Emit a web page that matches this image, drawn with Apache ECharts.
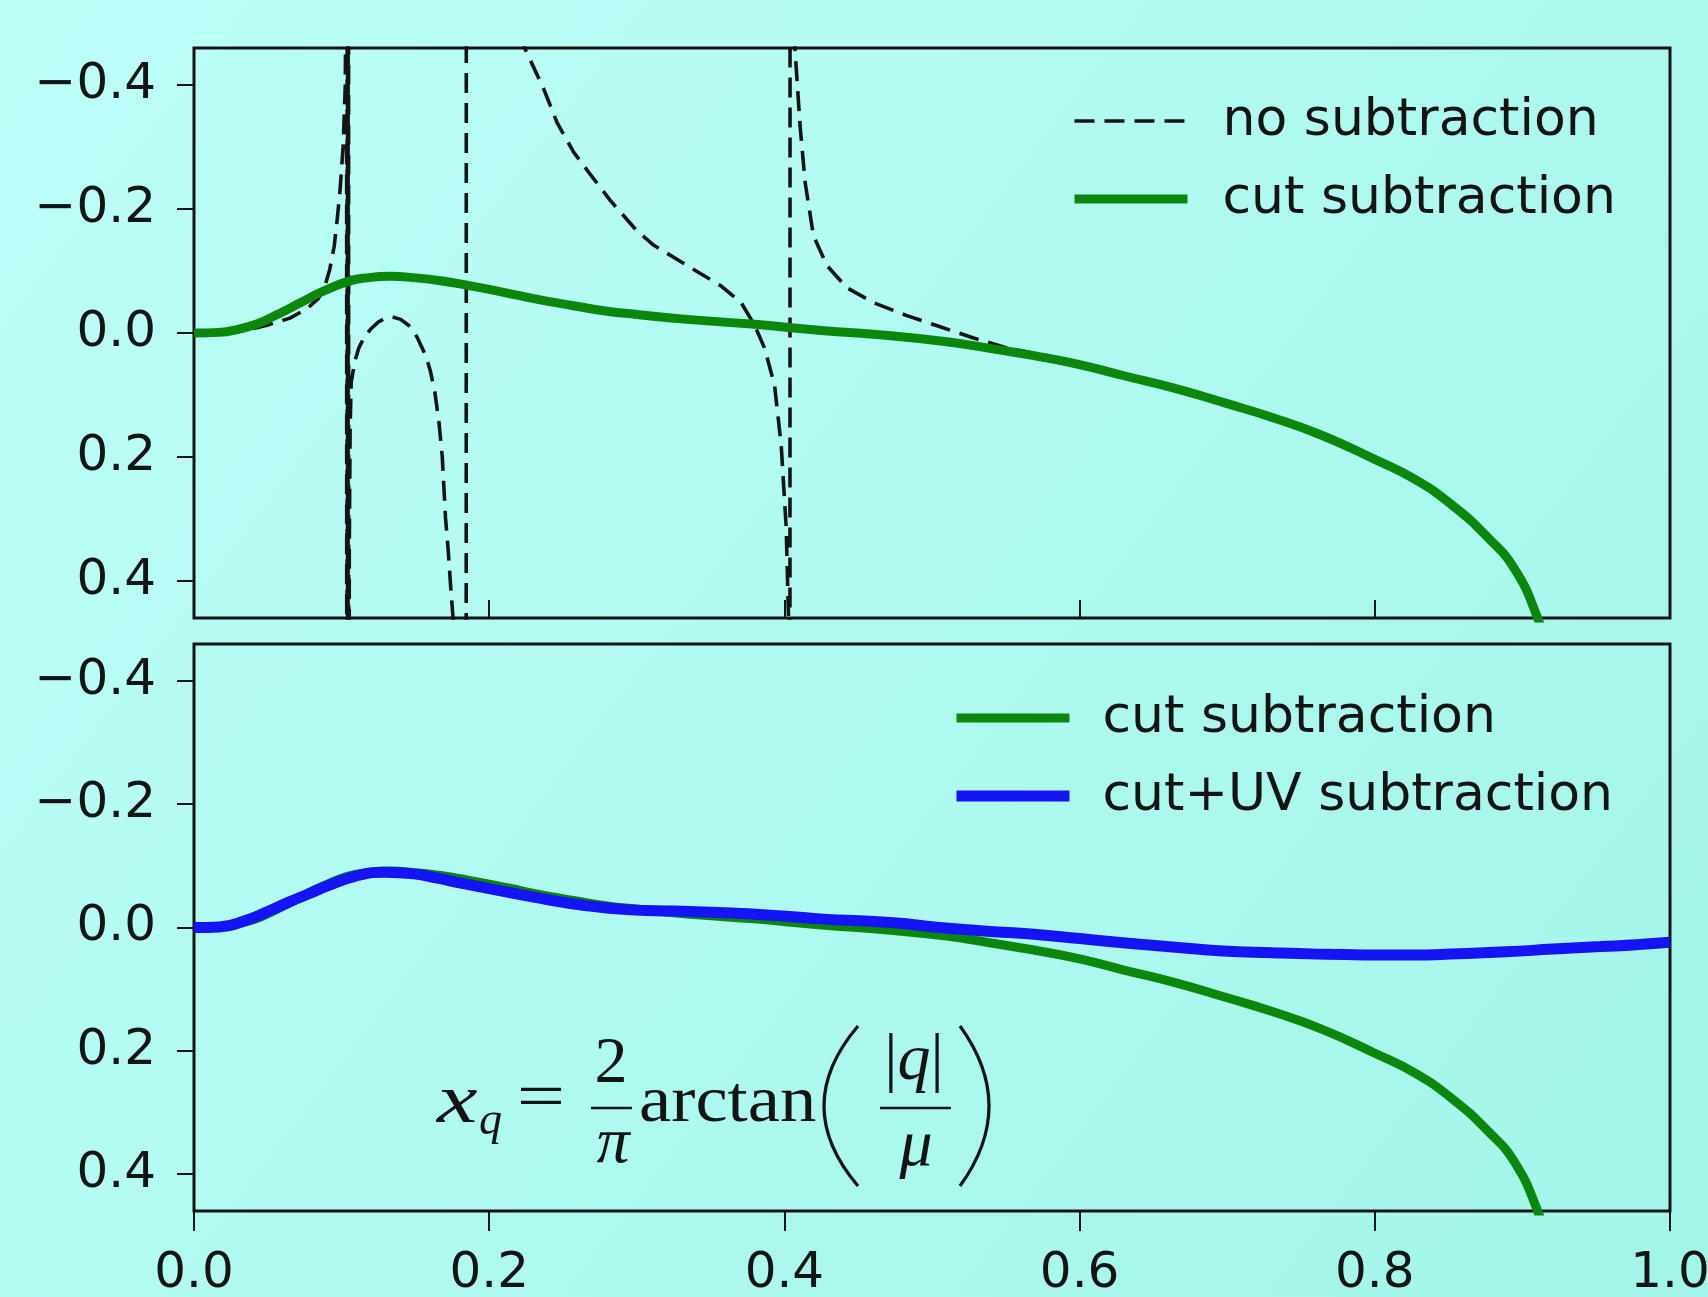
<!DOCTYPE html>
<html>
<head>
<meta charset="utf-8">
<script src="https://cdn.jsdelivr.net/npm/echarts@6/dist/echarts.min.js"></script>
<style>
  html, body { margin: 0; padding: 0; }
  #chart { width: 1708px; height: 1297px; }
</style>
</head>
<body>
<div id="chart"></div>
<script>
// x_q on the horizontal axis, values on an inverted vertical axis
const xTicks = [0, 0.2, 0.4, 0.6, 0.8, 1.0];
const yTicks = [-0.4, -0.2, 0, 0.2, 0.4];

// dashed curve, poles near 0.103, 0.184 and 0.404 (values past the frame are clipped)
const noSubtraction = [
  [0.000, 0.000], [0.020, 0.001], [0.035, -0.004], [0.050, -0.013], [0.065, -0.024],
  [0.077, -0.040], [0.084, -0.055], [0.088, -0.070], [0.092, -0.103], [0.095, -0.140],
  [0.097, -0.183], [0.099, -0.232], [0.101, -0.300], [0.1025, -0.40], [0.1030, -0.60],
  [0.1033, -3.0], [0.1036, 3.0], [0.1039, -3.0], [0.1042, 3.0], [0.1046, -3.0], [0.1049, 3.0],
  [0.1052, 0.35], [0.1058, 0.15], [0.1065, 0.08], [0.109, 0.045], [0.1117, 0.024], [0.1155, 0.006],
  [0.1196, -0.006], [0.125, -0.018], [0.1298, -0.024], [0.1343, -0.026], [0.140, -0.022],
  [0.1456, -0.012], [0.151, 0.006], [0.1569, 0.036], [0.160, 0.060], [0.1632, 0.096],
  [0.166, 0.145], [0.1682, 0.200], [0.1704, 0.298], [0.1722, 0.350], [0.1738, 0.406],
  [0.1754, 0.457], [0.178, 0.62], [0.182, 1.2], [0.1843, 3.0], [0.1846, -3.0],
  [0.200, -0.80], [0.214, -0.56], [0.2244, -0.458], [0.2369, -0.394], [0.2459, -0.340],
  [0.2572, -0.292], [0.2685, -0.256], [0.282, -0.214], [0.300, -0.165], [0.3113, -0.142],
  [0.334, -0.109], [0.357, -0.076], [0.3707, -0.049], [0.3797, -0.013], [0.3865, 0.024],
  [0.3933, 0.084], [0.3978, 0.180], [0.4012, 0.313], [0.4028, 0.46], [0.4036, 3.0],
  [0.4040, -3.0], [0.406, -0.52], [0.4073, -0.453],
  [0.4107, -0.332], [0.4141, -0.242], [0.4197, -0.157], [0.4288, -0.109], [0.4423, -0.073],
  [0.4604, -0.049], [0.483, -0.028], [0.5055, -0.010], [0.5281, 0.008], [0.5507, 0.024],
  [0.5665, 0.032], [0.600, 0.051], [0.630, 0.069], [0.664, 0.089], [0.700, 0.114],
  [0.730, 0.136], [0.764, 0.165], [0.800, 0.204], [0.827, 0.236], [0.852, 0.277],
  [0.877, 0.331], [0.895, 0.382], [0.910, 0.458], [0.920, 0.55]
];

const cutSubtraction = [
  [0.000, 0.000], [0.017, -0.001], [0.030, -0.006], [0.043, -0.015], [0.054, -0.027],
  [0.065, -0.040], [0.077, -0.055], [0.088, -0.068], [0.104, -0.083], [0.117, -0.089],
  [0.133, -0.0915], [0.150, -0.089], [0.168, -0.084], [0.185, -0.077], [0.205, -0.068],
  [0.223, -0.059], [0.240, -0.051], [0.257, -0.044], [0.280, -0.035], [0.300, -0.030],
  [0.334, -0.022], [0.380, -0.014], [0.425, -0.004], [0.470, 0.004], [0.510, 0.014],
  [0.537, 0.024], [0.570, 0.037], [0.600, 0.051], [0.630, 0.069], [0.664, 0.089],
  [0.700, 0.114], [0.730, 0.136], [0.764, 0.165], [0.800, 0.204], [0.827, 0.236],
  [0.852, 0.277], [0.877, 0.331], [0.895, 0.382], [0.910, 0.458], [0.918, 0.52]
];

const cutUvSubtraction = [
  [0.000, 0.000], [0.017, -0.001], [0.037, -0.013], [0.050, -0.026], [0.063, -0.040],
  [0.077, -0.054], [0.090, -0.067], [0.109, -0.083], [0.129, -0.0895], [0.149, -0.087],
  [0.165, -0.080], [0.181, -0.072], [0.200, -0.063], [0.221, -0.0535], [0.240, -0.045],
  [0.260, -0.0374], [0.293, -0.029], [0.326, -0.0266], [0.375, -0.0224], [0.424, -0.014],
  [0.474, -0.0076], [0.505, 0.000], [0.537, 0.006], [0.569, 0.011], [0.600, 0.018],
  [0.633, 0.0255], [0.665, 0.032], [0.697, 0.038], [0.730, 0.041], [0.761, 0.0432],
  [0.793, 0.0445], [0.825, 0.0448], [0.857, 0.0425], [0.889, 0.0395], [0.921, 0.035],
  [0.953, 0.031], [0.977, 0.028], [1.000, 0.024]
];

const ink = '#141414';
const green = '#0b880b';
const blue = '#1414f5';
const dashes = [20, 10];

const chart = echarts.init(document.getElementById('chart'));

function fmtY(v) {
  if (Math.abs(v) < 1e-9) return '0.0';
  return v < 0 ? '\u2212' + (-v).toFixed(1) : v.toFixed(1);
}

function yAxisFor(gridIndex) {
  return {
    type: 'value',
    gridIndex: gridIndex,
    inverse: true,
    min: -0.46,
    max: 0.46,
    axisLine: { show: false, onZero: false },
    splitLine: { show: false },
    axisTick: {
      show: true,
      customValues: yTicks,
      length: 17,
      lineStyle: { color: ink, width: 2 }
    },
    axisLabel: {
      customValues: yTicks,
      margin: 38,
      color: ink,
      fontSize: 50,
      fontFamily: 'DejaVu Sans',
      formatter: fmtY
    }
  };
}

const mathFont = 'Liberation Serif';

const legendCommon = {
  orient: 'vertical', padding: 0,
  itemWidth: 113, itemHeight: 14, itemGap: 26, selectedMode: false,
  itemStyle: { opacity: 0 }
};

const option = {
  animation: false,
  backgroundColor: {
    type: 'linear', x: 0, y: 0, x2: 1, y2: 1,
    colorStops: [
      { offset: 0, color: '#bdfef9' },
      { offset: 1, color: '#a2f5e9' }
    ]
  },
  grid: [
    { left: 194, right: 38, top: 48, height: 570, show: true, borderColor: ink, borderWidth: 3,
      backgroundColor: 'transparent', containLabel: false, outerBoundsMode: 'none' },
    { left: 194, right: 38, top: 644, height: 567, show: true, borderColor: ink, borderWidth: 3,
      backgroundColor: 'transparent', containLabel: false, outerBoundsMode: 'none' }
  ],
  xAxis: [
    {
      type: 'value', gridIndex: 0, min: 0, max: 1, interval: 0.2,
      axisLine: { show: false, onZero: false },
      splitLine: { show: false },
      axisTick: { show: true, inside: true, length: 18, lineStyle: { color: ink, width: 2 } },
      axisLabel: { show: false }
    },
    {
      type: 'value', gridIndex: 1, min: 0, max: 1, interval: 0.2,
      axisLine: { show: false, onZero: false },
      splitLine: { show: false },
      axisTick: { show: true, length: 20, lineStyle: { color: ink, width: 2 } },
      axisLabel: {
        margin: 38, color: ink, fontSize: 50, fontFamily: 'DejaVu Sans',
        showMinLabel: true, showMaxLabel: true, hideOverlap: false,
        formatter: v => v.toFixed(1)
      }
    }
  ],
  yAxis: [yAxisFor(0), yAxisFor(1)],
  legend: [
    Object.assign({}, legendCommon, {
      left: 1070, top: 95,
      textStyle: { fontSize: 52, lineHeight: 52, fontFamily: 'DejaVu Sans', color: ink, padding: [0, 0, 0, 30] },
      data: [
        { name: 'no subtraction', lineStyle: { color: ink, width: 3.6, type: dashes } },
        { name: 'cut subtraction', lineStyle: { color: green, width: 9 } }
      ]
    }),
    Object.assign({}, legendCommon, {
      left: 951, top: 692,
      textStyle: { fontSize: 52, lineHeight: 52, fontFamily: 'DejaVu Sans', color: ink, padding: [0, 0, 0, 28] },
      data: [
        { name: 'cut subtraction', lineStyle: { color: green, width: 9 } },
        { name: 'cut+UV subtraction', lineStyle: { color: blue, width: 11 } }
      ]
    })
  ],
  series: [
    {
      name: 'no subtraction', type: 'line', xAxisIndex: 0, yAxisIndex: 0,
      data: noSubtraction, showSymbol: false, symbol: 'none', smooth: false,
      clip: true, z: 2,
      lineStyle: { color: ink, width: 3.6, type: dashes }
    },
    {
      name: 'cut subtraction', type: 'line', xAxisIndex: 0, yAxisIndex: 0,
      data: cutSubtraction, showSymbol: false, symbol: 'none', smooth: 0.5,
      clip: true, z: 3,
      lineStyle: { color: green, width: 9 }
    },
    {
      name: 'cut subtraction', type: 'line', xAxisIndex: 1, yAxisIndex: 1,
      data: cutSubtraction, showSymbol: false, symbol: 'none', smooth: 0.5,
      clip: true, z: 2,
      lineStyle: { color: green, width: 9 }
    },
    {
      name: 'cut+UV subtraction', type: 'line', xAxisIndex: 1, yAxisIndex: 1,
      data: cutUvSubtraction, showSymbol: false, symbol: 'none', smooth: 0.5,
      clip: true, z: 3,
      lineStyle: { color: blue, width: 11 }
    }
  ],
  // the formula x_q = (2/pi) arctan(|q|/mu), set by hand like a LaTeX annotation
  graphic: [
    { type: 'text', x: 437, y: 1104, scaleX: 1.3, style: { text: 'x', fontSize: 70, fontStyle: 'italic', fontFamily: mathFont, fill: ink, verticalAlign: 'middle' } },
    { type: 'text', x: 479, y: 1122, style: { text: 'q', fontSize: 46, fontStyle: 'italic', fontFamily: mathFont, fill: ink, verticalAlign: 'middle' } },
    { type: 'text', x: 541, y: 1101, scaleX: 1.3, style: { text: '=', fontSize: 66, fontFamily: mathFont, fill: ink, align: 'center', verticalAlign: 'middle' } },
    { type: 'text', x: 611, y: 1065, style: { text: '2', fontSize: 66, fontFamily: mathFont, fill: ink, align: 'center', verticalAlign: 'middle' } },
    { type: 'line', shape: { x1: 591, y1: 1108, x2: 632, y2: 1108 }, style: { stroke: ink, lineWidth: 2.5 } },
    { type: 'text', x: 613, y: 1145, style: { text: '\u03c0', fontSize: 66, fontStyle: 'italic', fontFamily: mathFont, fill: ink, align: 'center', verticalAlign: 'middle' } },
    { type: 'text', x: 639, y: 1104, scaleX: 1.1, style: { text: 'arctan', fontSize: 66, fontFamily: mathFont, fill: ink, verticalAlign: 'middle' } },
    { type: 'bezierCurve', shape: { x1: 858, y1: 1026, cpx1: 790, cpy1: 1106, x2: 858, y2: 1186 }, style: { stroke: ink, lineWidth: 3.2, fill: null } },
    { type: 'text', x: 914, y: 1062, style: {
      text: '{a||}{b|q}{a||}', fill: ink, align: 'center', verticalAlign: 'middle',
      rich: {
        a: { fontSize: 66, fontFamily: mathFont, fill: ink },
        b: { fontSize: 66, fontStyle: 'italic', fontFamily: mathFont, fill: ink }
      } } },
    { type: 'line', shape: { x1: 880, y1: 1108, x2: 951, y2: 1108 }, style: { stroke: ink, lineWidth: 2.5 } },
    { type: 'text', x: 916, y: 1148, style: { text: '\u03bc', fontSize: 66, fontStyle: 'italic', fontFamily: mathFont, fill: ink, align: 'center', verticalAlign: 'middle' } },
    { type: 'bezierCurve', shape: { x1: 960, y1: 1026, cpx1: 1018, cpy1: 1106, x2: 960, y2: 1186 }, style: { stroke: ink, lineWidth: 3.2, fill: null } }
  ]
};

chart.setOption(option);
</script>
</body>
</html>
